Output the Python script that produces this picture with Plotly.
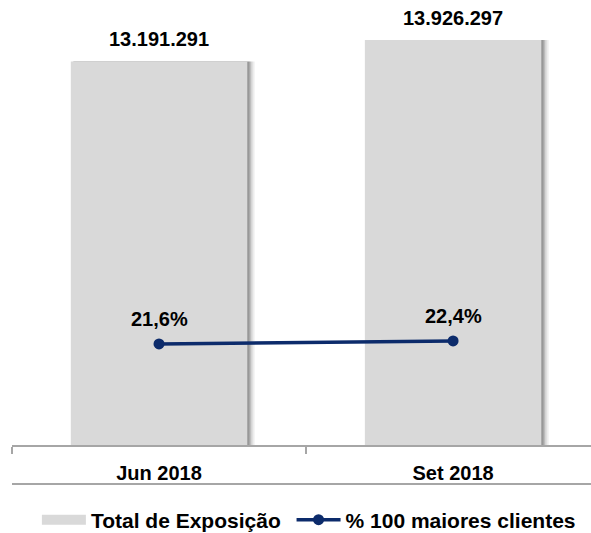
import plotly.graph_objects as go

categories = ["Jun 2018", "Set 2018"]
total_exposicao = [13191291, 13926297]
pct_100_maiores = [21.6, 22.4]

bar_labels = [f"{v:,}".replace(",", ".") for v in total_exposicao]
pct_labels = [f"{v:.1f}%".replace(".", ",") for v in pct_100_maiores]

FONT = "Liberation Sans, Arial, sans-serif"
BAR_COLOR = "#d9d9d9"
LINE_COLOR = "#0c2b6b"
AXIS_COLOR = "#a6a6a6"
TXT = dict(family=FONT, size=20, color="#000000", weight="bold")

fig = go.Figure()

# soft shadow behind the bars
for off, w, op in [(0.014, 0.614, 0.07), (0.010, 0.608, 0.10), (0.006, 0.604, 0.14), (0.003, 0.601, 0.16)]:
    fig.add_trace(go.Bar(
        x=categories, y=total_exposicao, width=w, offset=-0.3 + off - (w - 0.6) / 2 + 0.004,
        marker=dict(color=f"rgba(0,0,0,{op})", line=dict(width=0)),
        showlegend=False, hoverinfo="skip",
    ))

fig.add_trace(go.Bar(
    x=categories, y=total_exposicao, width=0.6, offset=-0.3,
    name="Total de Exposição", showlegend=False,
    marker=dict(color=BAR_COLOR, line=dict(width=0)),
))

# legend entry with the wide flat swatch of the bar series
fig.add_trace(go.Scatter(
    x=[None], y=[None], mode="lines", name="Total de Exposição\u00a0",
    line=dict(color=BAR_COLOR, width=10), hoverinfo="skip",
))

fig.add_trace(go.Scatter(
    x=categories, y=pct_100_maiores, yaxis="y2",
    name="% 100 maiores clientes",
    mode="lines+markers",
    line=dict(color=LINE_COLOR, width=3.5),
    marker=dict(color=LINE_COLOR, size=11),
    cliponaxis=False,
))

annotations = []
for c, v, t in zip(categories, total_exposicao, bar_labels):
    annotations.append(dict(x=c, y=v, xref="x", yref="y", text=t, showarrow=False,
                            yanchor="bottom", yshift=9, font=TXT))
for c, v, t in zip(categories, pct_100_maiores, pct_labels):
    annotations.append(dict(x=c, y=v, xref="x", yref="y2", text=t, showarrow=False,
                            yanchor="bottom", yshift=12, font=TXT))

fig.update_layout(
    width=591, height=533,
    margin=dict(l=12, r=0, t=0, b=88, autoexpand=False),
    paper_bgcolor="white", plot_bgcolor="white",
    barmode="overlay",
    font=dict(family=FONT, color="#000000"),
    xaxis=dict(
        type="category", range=[-0.5, 1.469],
        showline=True, linecolor=AXIS_COLOR, linewidth=2,
        ticks="outside", tickson="boundaries", ticklen=7, tickcolor=AXIS_COLOR, tickwidth=2,
        tickfont=TXT, ticklabelstandoff=9,
        showgrid=False, zeroline=False,
    ),
    yaxis=dict(range=[0, 15301832], visible=False, showgrid=False, zeroline=False),
    yaxis2=dict(range=[-5.33, 113.3], overlaying="y", visible=False, showgrid=False, zeroline=False),
    legend=dict(
        orientation="h", x=0.043, xanchor="left", y=-75 / 445, yanchor="middle",
        font=dict(family=FONT, size=21, color="#000000", weight="bold"),
        traceorder="normal", itemwidth=44, tracegroupgap=0,
    ),
    annotations=annotations,
    shapes=[dict(
        type="line", xref="paper", yref="paper",
        x0=0, x1=1, y0=-39 / 445, y1=-39 / 445,
        line=dict(color=AXIS_COLOR, width=2),
    )],
)

fig.write_html("out.html", config={"displayModeBar": False},
               post_script="document.body.style.margin='0';document.body.style.overflow='hidden';")
